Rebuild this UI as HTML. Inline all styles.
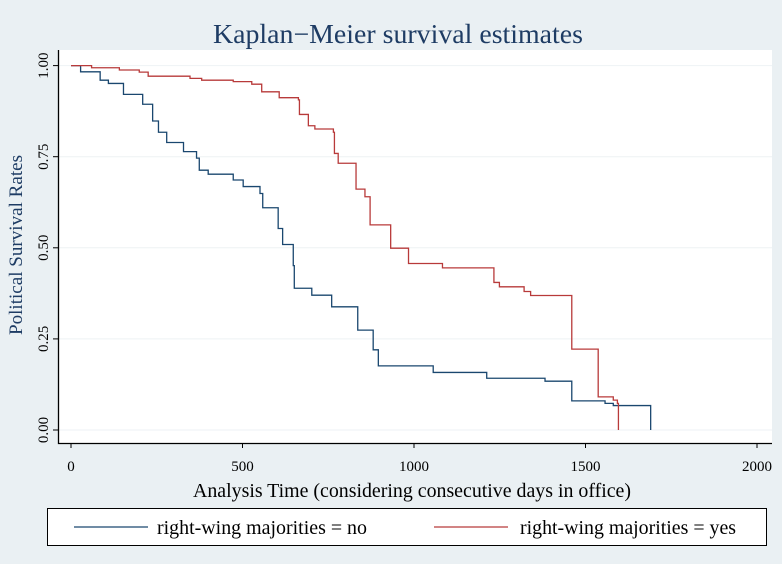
<!DOCTYPE html>
<html><head><meta charset="utf-8"><style>
body{margin:0;background:#eaf0f3;}
svg{display:block;font-family:"Liberation Serif",serif;}
</style></head><body>
<svg width="782" height="564" id="c">
<rect x="0" y="0" width="782" height="564" fill="#eaf0f3"/>
<text x="398" y="43" font-size="27" fill="#1e3c64" text-anchor="middle" textLength="370" lengthAdjust="spacingAndGlyphs">Kaplan−Meier survival estimates</text>
<rect x="58" y="50" width="714" height="393" fill="#fff"/>
<g id="grid"></g>
<g id="series"></g>
<g id="axes"></g>
<text x="22" y="245" font-size="19" fill="#1e3c64" text-anchor="middle" textLength="180" lengthAdjust="spacingAndGlyphs" transform="rotate(-90 22 245)">Political Survival Rates</text>
<text x="412" y="497" font-size="20" fill="#000" text-anchor="middle" textLength="438" lengthAdjust="spacingAndGlyphs">Analysis Time (considering consecutive days in office)</text>
<g>
<rect x="47.5" y="508.5" width="719" height="37" fill="#fff" stroke="#000" stroke-width="1"/>
<g>
<line x1="74" y1="527" x2="148" y2="527" stroke="#1a476f" stroke-width="1.3"/>
<text x="157" y="534" font-size="20" textLength="210" lengthAdjust="spacingAndGlyphs">right-wing majorities = no</text>
</g>
<g>
<line x1="434" y1="527" x2="508" y2="527" stroke="#b83a3a" stroke-width="1.3"/>
<text x="520" y="534" font-size="20" textLength="216" lengthAdjust="spacingAndGlyphs">right-wing majorities = yes</text>
</g>
</g>
</svg>
<script>
const xTicks=[0,500,1000,1500,2000];
const yTicks=[0,0.25,0.5,0.75,1];
const yTickLabels=["0.00","0.25","0.50","0.75","1.00"];
const noTimes=[0,28,85,109,153,209,238,255,279,328,366,374,400,473,502,551,559,604,617,648,651,702,760,836,881,896,1056,1212,1382,1460,1557,1581,1690];
const noSurv=[1,0.983,0.960,0.951,0.921,0.894,0.848,0.817,0.789,0.764,0.746,0.713,0.702,0.686,0.668,0.649,0.610,0.553,0.509,0.451,0.389,0.370,0.338,0.274,0.220,0.176,0.158,0.142,0.134,0.080,0.073,0.067,0];
const yesTimes=[0,60,141,199,225,347,381,473,527,556,607,663,666,692,711,765,768,779,831,857,872,932,984,1083,1233,1249,1321,1340,1460,1537,1581,1593,1596];
const yesSurv=[1,0.994,0.988,0.982,0.971,0.965,0.960,0.956,0.949,0.928,0.912,0.906,0.866,0.835,0.826,0.817,0.759,0.732,0.661,0.640,0.563,0.499,0.457,0.445,0.405,0.393,0.380,0.369,0.222,0.091,0.082,0.073,0];
const NS="http://www.w3.org/2000/svg";
const X=t=>71+t*0.343;
const Y=s=>430-s*364.4;
function mk(tag,attrs,parent){const e=document.createElementNS(NS,tag);for(const k in attrs)e.setAttribute(k,attrs[k]);parent.appendChild(e);return e;}
const grid=document.getElementById('grid'),axes=document.getElementById('axes'),ser=document.getElementById('series');
yTicks.forEach((v,i)=>{
 const g=mk('line',{x1:58,x2:772,y1:Y(v),y2:Y(v),stroke:'#eef2f4','stroke-width':1},grid);
 
 
 const t=mk('line',{x1:53,x2:58,y1:Y(v),y2:Y(v),stroke:'#000','stroke-width':1},axes);
 
 
 const l=mk('text',{x:48,y:Y(v),'font-size':15,'text-anchor':'middle',transform:`rotate(-90 48 ${Y(v)})`},axes);
 l.textContent=yTickLabels[i];
 
 
});
xTicks.forEach(v=>{
 const t=mk('line',{x1:X(v),x2:X(v),y1:443,y2:448,stroke:'#000','stroke-width':1},axes);
 
 
 const l=mk('text',{x:X(v),y:471,'font-size':15,'text-anchor':'middle'},axes);
 l.textContent=v;
 
 
});
const ax=mk('path',{d:'M58.5 50 V443.5 H772',fill:'none',stroke:'#000','stroke-width':1.3},axes);


function step(ts,ss){let d=`M${X(ts[0])} ${Y(ss[0])}`;for(let i=1;i<ts.length;i++){d+=` H${X(ts[i])} V${Y(ss[i])}`;}return d;}
const p1=mk('path',{d:step(noTimes,noSurv),fill:'none',stroke:'#1a476f','stroke-width':1.3},ser);


const p2=mk('path',{d:step(yesTimes,yesSurv),fill:'none',stroke:'#b83a3a','stroke-width':1.3},ser);


</script>
</body></html>
